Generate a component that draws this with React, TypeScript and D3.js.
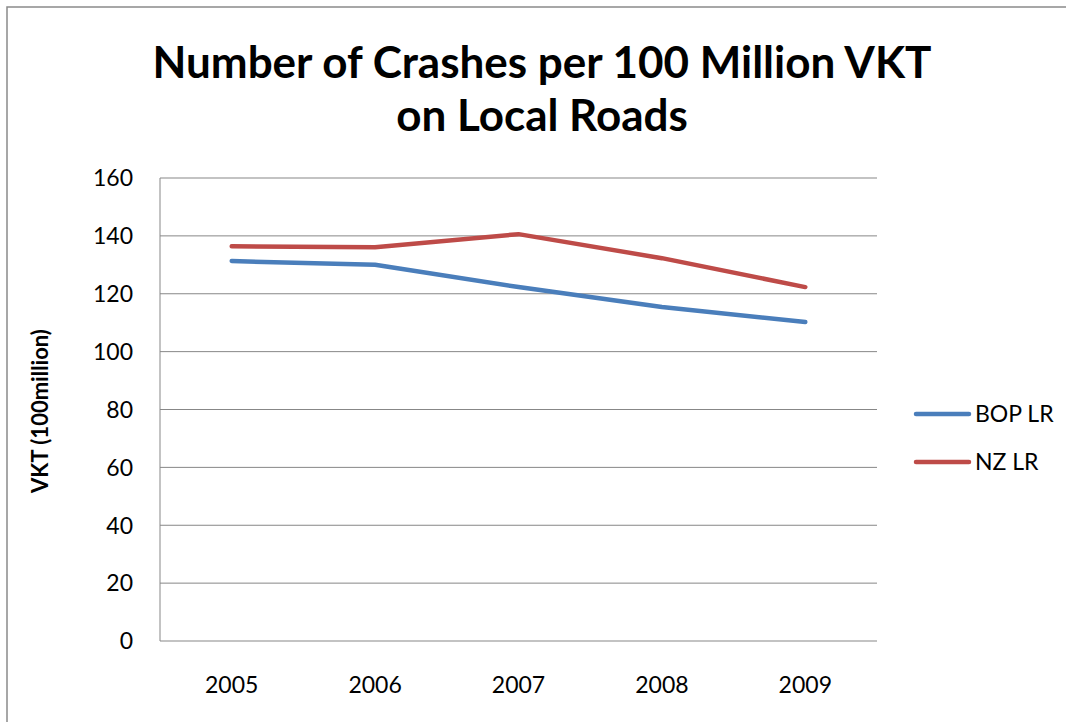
import React from "react";
import * as d3 from "d3";

const years = ["2005", "2006", "2007", "2008", "2009"];
const bopLR = [131.3, 130.0, 122.3, 115.4, 110.2];
const nzLR = [136.4, 136.1, 140.6, 132.3, 122.3];
const yTicks = [0, 20, 40, 60, 80, 100, 120, 140, 160];
const seriesNames = ["BOP LR", "NZ LR"];
const seriesColors = ["#4A7EBB", "#BE4B48"];

const W = 1066;
const H = 722;
const plot = { left: 160, right: 877, top: 178, bottom: 641 };
const FONT = "Lato, 'Open Sans', sans-serif";

export default function App() {
  const x = d3.scaleBand<string>().domain(years).range([plot.left, plot.right]);
  const y = d3.scaleLinear().domain([0, 160]).range([plot.bottom, plot.top]);
  const line = d3
    .line<number>()
    .x((_, i) => (x(years[i]) as number) + x.bandwidth() / 2)
    .y((d) => y(d));
  const series = [bopLR, nzLR];

  return (
    <svg
      width={W}
      height={H}
      style={{ position: "absolute", left: 0, top: 0, background: "#fff" }}
      fontFamily={FONT}
    >
      <rect x={0} y={0} width={W} height={H} fill="#fff" />
      <rect x={7} y={7} width={W + 20} height={H + 20} fill="none" stroke="#8a8a8a" strokeWidth={1.5} />
      <text x={542} y={78} textAnchor="middle" fontSize={44} fontWeight={700} fill="#000">
        Number of Crashes per 100 Million VKT
      </text>
      <text x={542} y={131} textAnchor="middle" fontSize={44} fontWeight={700} fill="#000">
        on Local Roads
      </text>

      {yTicks.map((t) => (
        <g key={t}>
          <line x1={plot.left} x2={plot.right} y1={y(t)} y2={y(t)} stroke="#878787" strokeWidth={1} />
          <text x={133} y={y(t)} dy="0.36em" textAnchor="end" fontSize={23} fill="#000">
            {t}
          </text>
        </g>
      ))}
      <line x1={plot.left} x2={plot.left} y1={plot.top} y2={plot.bottom} stroke="#878787" strokeWidth={1} />

      {years.map((yr) => (
        <text
          key={yr}
          x={(x(yr) as number) + x.bandwidth() / 2}
          y={685}
          dy="0.36em"
          textAnchor="middle"
          fontSize={23}
          fill="#000"
        >
          {yr}
        </text>
      ))}

      <text
        transform="translate(40,411) rotate(-90)"
        textAnchor="middle"
        dy="0.36em"
        fontSize={22}
        fontWeight={700}
        fill="#000"
      >
        VKT (100million)
      </text>

      {series.map((s, i) => (
        <path
          key={i}
          d={line(s) as string}
          fill="none"
          stroke={seriesColors[i]}
          strokeWidth={4.5}
          strokeLinecap="round"
          strokeLinejoin="round"
        />
      ))}

      {seriesNames.map((n, i) => (
        <g key={n}>
          <line
            x1={916}
            x2={969}
            y1={414 + i * 48}
            y2={414 + i * 48}
            stroke={seriesColors[i]}
            strokeWidth={4.5}
            strokeLinecap="round"
          />
          <text x={975} y={414 + i * 48} dy="0.36em" fontSize={23} fill="#000">
            {n}
          </text>
        </g>
      ))}
    </svg>
  );
}
